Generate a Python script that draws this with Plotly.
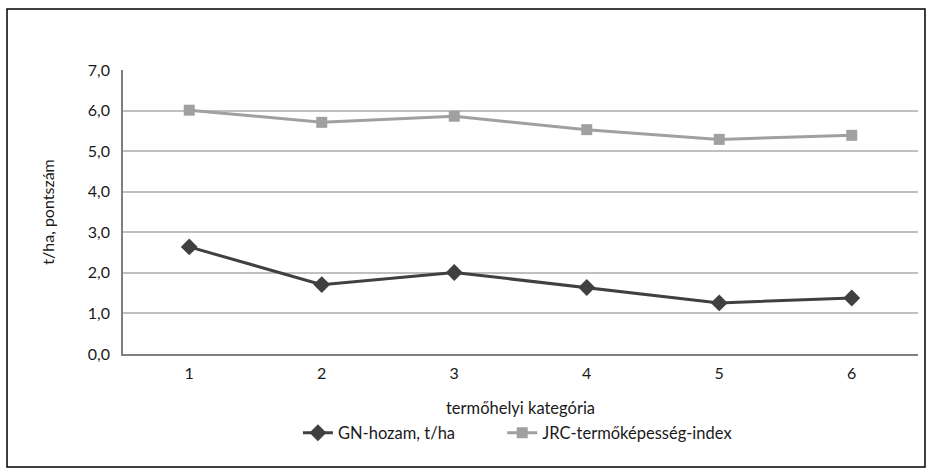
import plotly.graph_objects as go

categories = [1, 2, 3, 4, 5, 6]
gn_hozam = [2.64, 1.71, 2.01, 1.64, 1.26, 1.38]
jrc_index = [6.01, 5.71, 5.86, 5.53, 5.29, 5.39]
y_ticks = [0, 1, 2, 3, 4, 5, 6, 7]
y_tick_labels = ["0,0", "1,0", "2,0", "3,0", "4,0", "5,0", "6,0", "7,0"]

FONT = "Lato"
fig = go.Figure()
fig.add_trace(go.Scatter(
    x=categories, y=gn_hozam, mode="lines+markers", name="GN-hozam, t/ha",
    line=dict(color="#404040", width=3),
    marker=dict(symbol="diamond", size=13, color="#404040"),
    legend="legend",
))
fig.add_trace(go.Scatter(
    x=categories, y=jrc_index, mode="lines+markers", name="JRC-termőképesség-index",
    line=dict(color="#a0a0a0", width=3),
    marker=dict(symbol="square", size=11, color="#a0a0a0"),
    legend="legend2",
))

legend_common = dict(orientation="h", xanchor="left", y=-0.278, yanchor="middle",
                     font=dict(size=16.5), itemwidth=30, bgcolor="rgba(0,0,0,0)")

fig.update_layout(
    width=928, height=472,
    margin=dict(l=123, r=10, t=70, b=118),
    paper_bgcolor="white", plot_bgcolor="white",
    font=dict(family=FONT, size=16, color="#1a1a1a"),
    showlegend=True,
    legend=dict(x=0.220, **legend_common),
    legend2=dict(x=0.477, **legend_common),
    xaxis=dict(range=[0.5, 6.5], tickvals=categories, ticktext=[str(c) for c in categories],
               showgrid=False, showline=True, linecolor="#7f7f7f", linewidth=1.5,
               ticks="", zeroline=False, fixedrange=True, ticklabelstandoff=4),
    yaxis=dict(range=[0, 7], tickvals=y_ticks, ticktext=y_tick_labels,
               showgrid=True, gridcolor="#c0c0c0", gridwidth=1.5,
               showline=True, linecolor="#7f7f7f", linewidth=1.5,
               ticks="", zeroline=False, ticklabelstandoff=8),
    annotations=[
        dict(text="termőhelyi kategória", xref="paper", yref="paper", x=0.5, y=-0.19,
             xanchor="center", yanchor="middle", showarrow=False, font=dict(size=16.5)),
        dict(text="t/ha, pontszám", xref="paper", yref="paper", x=-0.096, y=0.5,
             textangle=-90, xanchor="center", yanchor="middle", showarrow=False, font=dict(size=16)),
    ],
    shapes=[dict(type="rect", xref="paper", yref="paper", x0=-0.1459, x1=1.0088,
                 y0=-0.398, y1=1.2148, line=dict(color="black", width=1.5))],
)
fig.write_html("out.html")
